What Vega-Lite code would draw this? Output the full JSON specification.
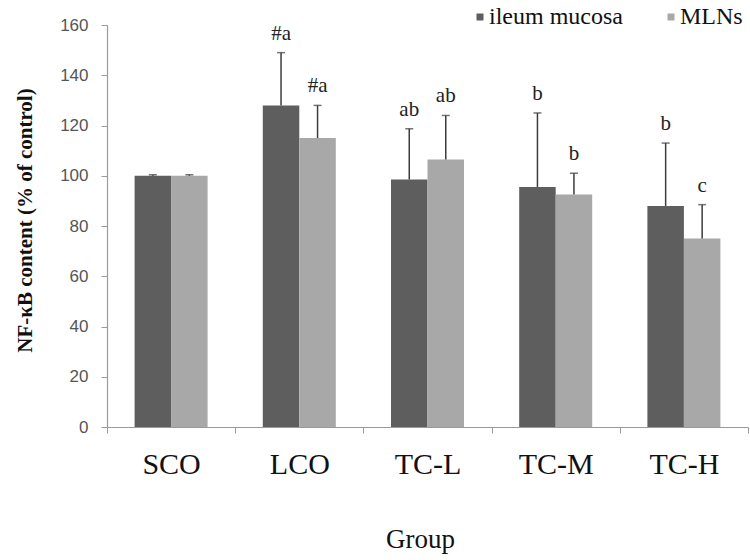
{
  "$schema": "https://vega.github.io/schema/vega-lite/v6.json",
  "autosize": "none",
  "padding": {"left": 107, "top": 25, "right": 2, "bottom": 133},
  "width": 641,
  "height": 402,
  "background": "white",
  "config": {
    "view": {"stroke": null},
    "font": "Liberation Serif",
    "style": {"guide-label": {"font": "Liberation Serif"}},
    "legend": {"labelFont": "Liberation Serif", "labelFontSize": 24, "labelColor": "#111111"}
  },
  "data": {
    "values": [
      {"group": "SCO", "tissue": "ileum mucosa", "value": 100, "err": 100.4, "sig": ""},
      {"group": "SCO", "tissue": "MLNs", "value": 100, "err": 100.4, "sig": ""},
      {"group": "LCO", "tissue": "ileum mucosa", "value": 128, "err": 149, "sig": "#a"},
      {"group": "LCO", "tissue": "MLNs", "value": 115, "err": 128, "sig": "#a"},
      {"group": "TC-L", "tissue": "ileum mucosa", "value": 98.5, "err": 118.7, "sig": "ab"},
      {"group": "TC-L", "tissue": "MLNs", "value": 106.5, "err": 124, "sig": "ab"},
      {"group": "TC-M", "tissue": "ileum mucosa", "value": 95.5, "err": 125, "sig": "b"},
      {"group": "TC-M", "tissue": "MLNs", "value": 92.5, "err": 101, "sig": "b"},
      {"group": "TC-H", "tissue": "ileum mucosa", "value": 88, "err": 113, "sig": "b"},
      {"group": "TC-H", "tissue": "MLNs", "value": 75, "err": 88.5, "sig": "c"}
    ]
  },
  "encoding": {
    "x": {
      "field": "group",
      "type": "nominal",
      "sort": ["SCO", "LCO", "TC-L", "TC-M", "TC-H"],
      "scale": {"paddingInner": 0, "paddingOuter": 0},
      "axis": {
        "title": "Group",
        "titleFont": "Liberation Serif",
        "titleFontSize": 27,
        "titleFontWeight": "normal",
        "titleColor": "#111111",
        "titleBaseline": "alphabetic",
        "titleX": 313,
        "titleY": 120,
        "labelAngle": 0,
        "labelFont": "Liberation Serif",
        "labelFontSize": 30,
        "labelColor": "#111111",
        "labelBaseline": "alphabetic",
        "labelPadding": 40,
        "tickBand": "extent",
        "tickSize": 6,
        "tickColor": "#9a9a9a",
        "domainColor": "#9a9a9a",
        "domainWidth": 1.2
      }
    },
    "xOffset": {
      "field": "tissue",
      "type": "nominal",
      "sort": ["ileum mucosa", "MLNs"],
      "scale": {"paddingInner": 0, "paddingOuter": 0.756}
    }
  },
  "layer": [
    {
      "mark": {"type": "bar"},
      "encoding": {
        "y": {
          "field": "value",
          "type": "quantitative",
          "scale": {"domain": [0, 160], "nice": false},
          "axis": {
            "title": "NF-κB content (% of control)",
            "titleFont": "Liberation Serif",
            "titleFontSize": 21,
            "titleFontWeight": "bold",
            "titleColor": "#111111",
            "titleAlign": "center",
            "titleBaseline": "middle",
            "titleAngle": -90,
            "titleX": -82,
            "titleY": 195,
            "values": [0, 20, 40, 60, 80, 100, 120, 140, 160],
            "grid": false,
            "labelFont": "Liberation Sans",
            "labelFontSize": 17,
            "labelColor": "#555555",
            "labelPadding": 13,
            "tickSize": 6,
            "tickColor": "#9a9a9a",
            "domainColor": "#9a9a9a",
            "domainWidth": 1.2
          }
        },
        "color": {
          "field": "tissue",
          "type": "nominal",
          "sort": ["ileum mucosa", "MLNs"],
          "scale": {"domain": ["ileum mucosa", "MLNs"], "range": ["#5e5e5e", "#a8a8a8"]},
          "legend": {
            "title": null,
            "orient": "none",
            "direction": "horizontal",
            "legendX": 361,
            "legendY": -20,
            "padding": 0,
            "symbolType": "square",
            "symbolSize": 49,
            "symbolStrokeWidth": 0,
            "labelFont": "Liberation Serif",
            "labelFontSize": 24,
            "labelColor": "#111111",
            "labelOffset": -3,
            "columnPadding": 36,
            "labelLimit": 300,
            "encode": {
              "labels": {"update": {"font": {"value": "Liberation Serif"}}}
            }
          }
        }
      }
    },
    {
      "mark": {"type": "rule", "color": "#3c3c3c", "strokeWidth": 1.5},
      "encoding": {
        "y": {"field": "value", "type": "quantitative"},
        "y2": {"field": "err"}
      }
    },
    {
      "mark": {"type": "tick", "color": "#3c3c3c", "thickness": 1.5, "size": 8, "orient": "horizontal"},
      "encoding": {
        "y": {"field": "err", "type": "quantitative"}
      }
    },
    {
      "mark": {"type": "text", "font": "Liberation Serif", "fontSize": 21, "color": "#222222", "baseline": "middle", "dy": -19},
      "encoding": {
        "y": {"field": "err", "type": "quantitative"},
        "text": {"field": "sig"}
      }
    }
  ]
}
